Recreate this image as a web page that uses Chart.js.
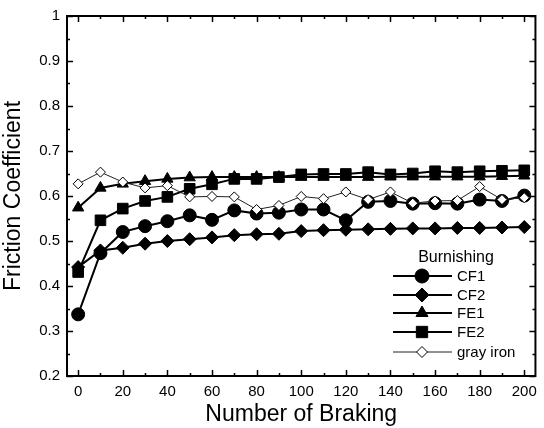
<!DOCTYPE html>
<html><head><meta charset="utf-8">
<script src="https://cdn.jsdelivr.net/npm/chart.js@4.4.1/dist/chart.umd.min.js"></script>
<style>html,body{margin:0;padding:0;background:#fff}#wrap{width:544px;height:428px}</style>
</head><body><div id="wrap"><canvas id="c" width="544" height="428"></canvas></div>
<script>
const braking = [0,10,20,30,40,50,60,70,80,90,100,110,120,130,140,150,160,170,180,190,200];
const cf1 = [0.337,0.473,0.520,0.533,0.544,0.557,0.547,0.568,0.561,0.563,0.570,0.570,0.546,0.587,0.589,0.583,0.584,0.583,0.592,0.589,0.601];
const cf2 = [0.442,0.479,0.485,0.494,0.500,0.504,0.508,0.513,0.515,0.516,0.522,0.524,0.525,0.526,0.527,0.528,0.528,0.529,0.529,0.530,0.531];
const fe1 = [0.574,0.618,0.627,0.633,0.638,0.641,0.642,0.642,0.642,0.642,0.642,0.642,0.642,0.642,0.643,0.643,0.643,0.643,0.643,0.644,0.645];
const fe2 = [0.431,0.546,0.572,0.589,0.598,0.616,0.626,0.638,0.638,0.642,0.648,0.649,0.649,0.653,0.648,0.650,0.655,0.653,0.655,0.656,0.657];
const grayIron = [0.627,0.653,0.631,0.618,0.623,0.598,0.599,0.598,0.570,0.579,0.599,0.594,0.609,0.592,0.609,0.584,0.589,0.590,0.621,0.592,0.596];
const xTickLabels = [0,20,40,60,80,100,120,140,160,180,200];
const yTickLabels = [0.2,0.3,0.4,0.5,0.6,0.7,0.8,0.9,1];
const seriesNames = ['CF1','CF2','FE1','FE2','gray iron'];
const legendTitle = 'Burnishing';

const FONT = 'Liberation Sans, Arial, Helvetica, sans-serif';
const pts = arr => braking.map((x,i)=>({x:x,y:arr[i]}));

const styles = [
  {pointStyle:'circle', radius:6.5, bw:1, lw:2, fill:'#000', line:'#000'},
  {pointStyle:'rectRot', radius:6.5, bw:1, lw:2, fill:'#000', line:'#000'},
  {pointStyle:'triangle', radius:6.5, bw:1, lw:2, fill:'#000', line:'#000'},
  {pointStyle:'rect', radius:7.5, bw:1, lw:2, fill:'#000', line:'#000'},
  {pointStyle:'rectRot', radius:5, bw:1, lw:1, fill:'#fff', line:'#222'}
];
const allData = [cf1,cf2,fe1,fe2,grayIron];
const datasets = allData.map((arr,i)=>({
  label: seriesNames[i],
  data: pts(arr),
  borderColor: styles[i].line,
  borderWidth: styles[i].lw,
  pointStyle: styles[i].pointStyle,
  pointRadius: styles[i].radius,
  pointBackgroundColor: styles[i].fill,
  pointBorderColor: '#000',
  pointBorderWidth: styles[i].bw,
  tension: 0
})).reverse();

const frame = {
  id:'frame',
  afterDatasetsDraw(chart){
    const {ctx, chartArea:a, scales:{x,y}} = chart;
    ctx.save();
    ctx.strokeStyle='#000';
    ctx.lineWidth=2;
    ctx.strokeRect(a.left,a.top,a.right-a.left,a.bottom-a.top);
    ctx.lineWidth=1.5;
    ctx.beginPath();
    for(let v=0; v<=200; v+=10){
      const px=Math.round(x.getPixelForValue(v))+0.5;
      const L = (v%20===0)?6:3;
      ctx.moveTo(px,a.bottom); ctx.lineTo(px,a.bottom-L);
      ctx.moveTo(px,a.top); ctx.lineTo(px,a.top+L);
    }
    for(let k=4; k<=20; k++){
      const v=k*0.05;
      const py=Math.round(y.getPixelForValue(v))+0.5;
      const L = (k%2===0)?6:3;
      ctx.moveTo(a.left,py); ctx.lineTo(a.left+L,py);
      ctx.moveTo(a.right,py); ctx.lineTo(a.right-L,py);
    }
    ctx.stroke();
    // legend
    ctx.fillStyle='#000';
    ctx.font='16px '+FONT;
    ctx.textAlign='center'; ctx.textBaseline='middle';
    ctx.fillText(legendTitle, 456, 258);
    const rows=[276,295,313,332,352];
    seriesNames.forEach((n,i)=>{
      const s=styles[i], yy=rows[i];
      ctx.strokeStyle=s.line; ctx.lineWidth=s.lw;
      ctx.beginPath(); ctx.moveTo(393,yy); ctx.lineTo(452,yy); ctx.stroke();
      ctx.fillStyle=s.fill; ctx.strokeStyle='#000'; ctx.lineWidth=s.bw;
      Chart.helpers.drawPoint(ctx,{pointStyle:s.pointStyle,radius:s.radius+0.5,borderWidth:s.bw,rotation:0},422,yy);
      ctx.fillStyle='#000';
      ctx.font='15px '+FONT; ctx.textAlign='left';
      ctx.fillText(n, 457, yy+1);
    });
    ctx.restore();
  }
};

new Chart(document.getElementById('c'),{
  type:'line',
  data:{datasets},
  options:{
    responsive:false, animation:false,
    layout:{padding:{top:15,right:1,left:0,bottom:0}},
    plugins:{legend:{display:false},tooltip:{enabled:false}},
    scales:{
      x:{type:'linear',min:-5,max:205,
        afterBuildTicks:s=>{s.ticks=xTickLabels.map(v=>({value:v}));},
        afterFit:s=>{s.height=52;},
        grid:{display:false,drawTicks:false},border:{display:false},
        ticks:{color:'#000',font:{family:FONT,size:15},padding:7,maxRotation:0,callback:v=>String(v)},
        title:{display:true,text:'Number of Braking',color:'#000',font:{family:FONT,size:23},padding:{top:0,bottom:0}}
      },
      y:{type:'linear',min:0.2,max:1,
        afterBuildTicks:s=>{s.ticks=yTickLabels.map(v=>({value:v}));},
        afterFit:s=>{s.width=67;},
        grid:{display:false,drawTicks:false},border:{display:false},
        ticks:{color:'#000',font:{family:FONT,size:15},padding:7,callback:v=>String(Math.round(v*10)/10)},
        title:{display:true,text:'Friction Coefficient',color:'#000',font:{family:FONT,size:23},padding:{top:0,bottom:0}}
      }
    }
  },
  plugins:[frame]
});
</script></body></html>
